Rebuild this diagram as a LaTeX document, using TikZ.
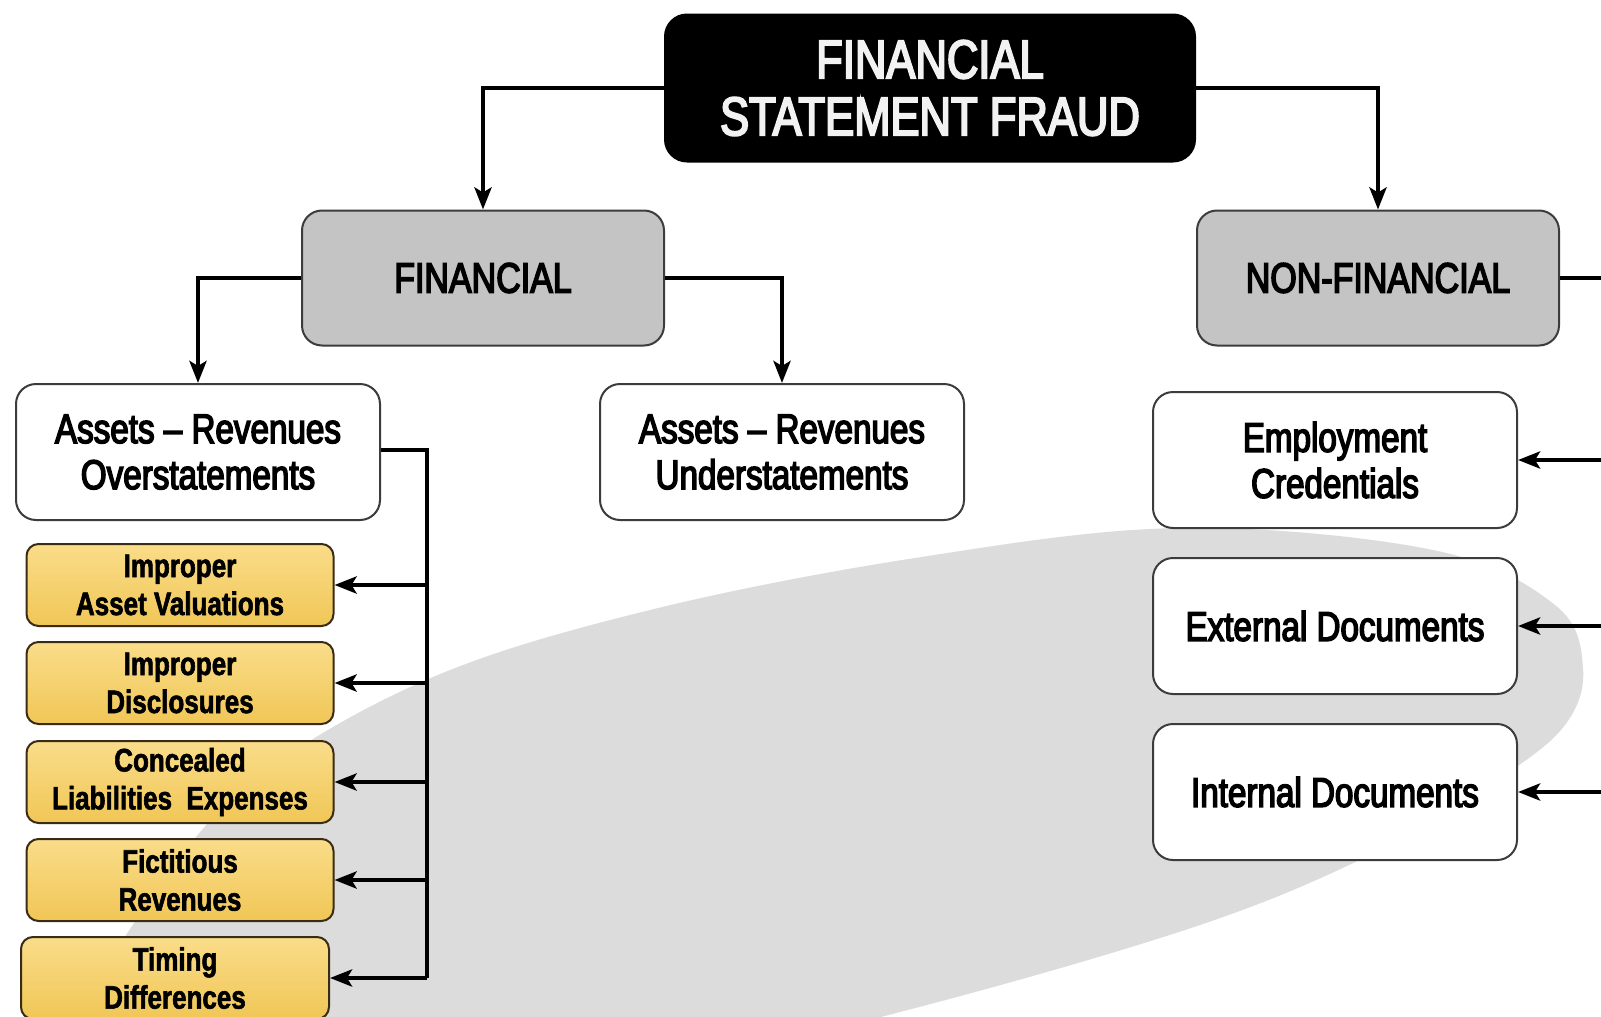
\documentclass[tikz,border=0pt]{standalone}
\usepackage{fontspec}
\setmainfont{Liberation Sans}
\newfontfamily\narrowfont[FakeStretch=0.8,FakeBold=3.5]{Liberation Sans}
\newfontfamily\narrowbold[FakeStretch=0.8,FakeBold=1.8]{Liberation Sans Bold}
\usetikzlibrary{arrows.meta}

\definecolor{boxline}{HTML}{3C3C3C}
\definecolor{midgray}{HTML}{C4C4C4}
\definecolor{ovalgray}{HTML}{DCDCDC}
\definecolor{goldtop}{HTML}{FADD8A}
\definecolor{goldbot}{HTML}{F0C656}
\definecolor{goldline}{HTML}{3A2C14}
\definecolor{titletext}{HTML}{F2F2F2}

\tikzset{
  base/.style={rectangle, align=center, inner sep=0pt, line width=2pt},
  titlebox/.style={base, fill=black, draw=black, rounded corners=22pt,
    minimum width=530pt, minimum height=147pt, text=titletext,
    font=\narrowfont\fontsize{54.5}{57}\selectfont},
  groupbox/.style={base, fill=midgray, draw=boxline, rounded corners=20pt,
    minimum width=362pt, minimum height=135pt,
    font=\narrowfont\fontsize{42.5}{46}\selectfont},
  itembox/.style={base, fill=white, draw=boxline, rounded corners=20pt,
    minimum width=364pt, minimum height=136pt,
    font=\narrowfont\fontsize{41.5}{46}\selectfont},
  goldbox/.style={base, top color=goldtop, bottom color=goldbot, draw=goldline,
    rounded corners=12pt, minimum width=307pt, minimum height=82pt,
    font=\narrowbold\fontsize{32.5}{38}\selectfont},
  link/.style={line width=4.5pt, draw=black},
  arrowlink/.style={link, -{Stealth[length=22pt,width=17pt,inset=5pt]}},
}

\begin{document}
\begin{tikzpicture}[x=1pt, y=-1pt]
  \useasboundingbox (0,0) rectangle (1601,1017);
  \clip (0,0) rectangle (1601,1017);
  \fill[white] (0,0) rectangle (1601,1017);

  % background oval, leaning up to the right
  \fill[ovalgray] plot[smooth cycle, tension=0.6] coordinates {
    (1180,528) (1433,550) (1555,605) (1583,668) (1565,725) (1500,778)
    (1380,850) (1200,925) (900,1012) (600,1080) (250,1100) (110,1000)
    (165,880) (260,775) (433,677) (650,610) (915,558)};

  % top of the tree
  \node[titlebox] (fsf) at (930,88) {FINANCIAL\\STATEMENT FRAUD};
  \node[groupbox] (fin) at (483,278) {FINANCIAL};
  \node[groupbox] (nonfin) at (1378,278) {NON-FINANCIAL};

  % financial branch
  \node[itembox] (over) at (198,452) {Assets – Revenues\\Overstatements};
  \node[itembox] (under) at (782,452) {Assets – Revenues\\Understatements};

  \node[goldbox] (g1) at (180,585) {Improper\\Asset Valuations};
  \node[goldbox] (g2) at (180,683) {Improper\\Disclosures};
  \node[goldbox] (g3) at (180,782) {Concealed\\Liabilities\ \ Expenses};
  \node[goldbox] (g4) at (180,880) {Fictitious\\Revenues};
  \node[goldbox, minimum width=308pt] (g5) at (175,978) {Timing\\Differences};

  % non-financial branch
  \node[itembox] (emp) at (1335,460) {Employment\\Credentials};
  \node[itembox] (ext) at (1335,626) {External Documents};
  \node[itembox] (int) at (1335,792) {Internal Documents};

  % connectors
  \draw[arrowlink] (fsf.west) -| (fin.north);
  \draw[arrowlink] (fsf.east) -| (nonfin.north);
  \draw[arrowlink] (fin.west) -| (over.north);
  \draw[arrowlink] (fin.east) -| (under.north);

  \coordinate (lbus) at (427,450);
  \draw[link] (over.east |- lbus) -- (lbus) -- (lbus |- g5.east);
  \foreach \g in {g1,g2,g3,g4,g5}
    \draw[arrowlink] (lbus |- \g.east) -- (\g.east);

  \coordinate (rbus) at (1614,278);
  \draw[link] (nonfin.east) -- (rbus) -- (rbus |- int.east);
  \foreach \g in {emp,ext,int}
    \draw[arrowlink] (rbus |- \g.east) -- (\g.east);
\end{tikzpicture}
\end{document}
